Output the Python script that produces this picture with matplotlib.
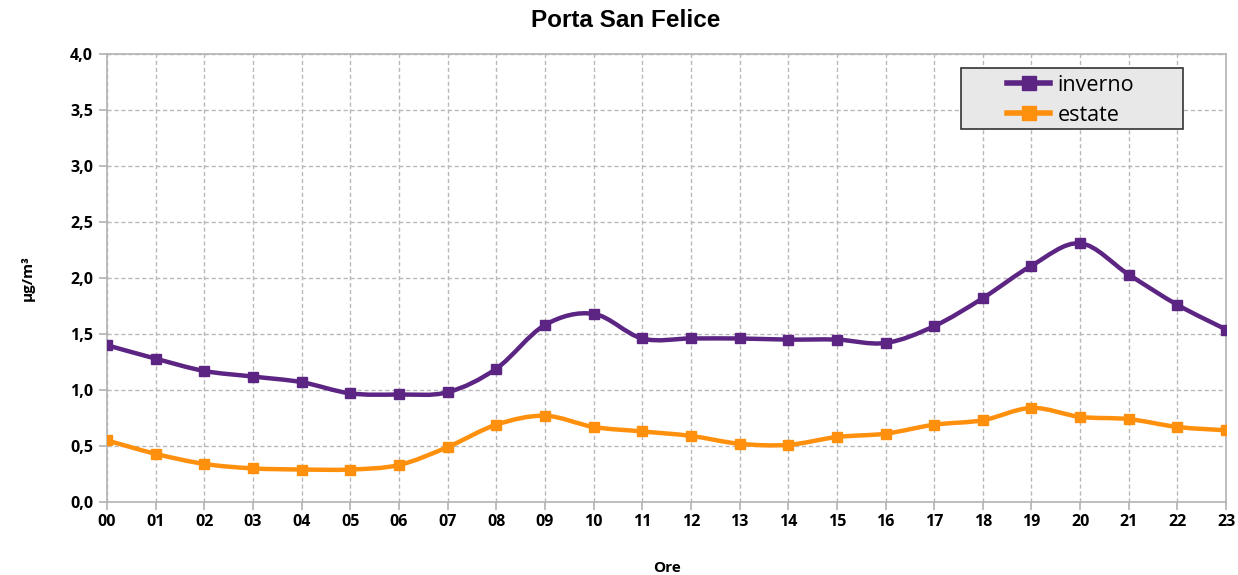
import matplotlib
matplotlib.use('Agg')
import matplotlib.pyplot as plt
from matplotlib.path import Path
from matplotlib.patches import PathPatch, Rectangle
from matplotlib.lines import Line2D
import numpy as np

# hourly means, Porta San Felice
ore = ['00', '01', '02', '03', '04', '05', '06', '07', '08', '09', '10', '11',
       '12', '13', '14', '15', '16', '17', '18', '19', '20', '21', '22', '23']
inverno = [1.40, 1.28, 1.17, 1.12, 1.07, 0.97, 0.96, 0.98, 1.19, 1.58, 1.68, 1.46,
           1.46, 1.46, 1.45, 1.45, 1.42, 1.57, 1.82, 2.11, 2.31, 2.03, 1.76, 1.54]
estate = [0.55, 0.43, 0.34, 0.30, 0.29, 0.29, 0.33, 0.49, 0.69, 0.77, 0.67, 0.63,
          0.59, 0.52, 0.51, 0.58, 0.61, 0.69, 0.73, 0.84, 0.76, 0.74, 0.67, 0.64]

c_inv = '#5c2483'
c_est = '#ff900e'


def smooth_path(x, y):
    # cubic bezier segments through every point (catmull-rom tangents)
    x = np.asarray(x, float)
    y = np.asarray(y, float)
    n = len(x)
    verts = [(x[0], y[0])]
    codes = [Path.MOVETO]
    for i in range(n - 1):
        i0 = max(i - 1, 0)
        i3 = min(i + 2, n - 1)
        p1 = (x[i] + (x[i + 1] - x[i0]) / 6, y[i] + (y[i + 1] - y[i0]) / 6)
        p2 = (x[i + 1] - (x[i3] - x[i]) / 6, y[i + 1] - (y[i3] - y[i]) / 6)
        verts += [p1, p2, (x[i + 1], y[i + 1])]
        codes += [Path.CURVE4] * 3
    return Path(verts, codes)


fig = plt.figure(figsize=(12.38, 5.75), dpi=100)
ax = fig.add_axes([0.0864, 0.127, 0.904, 0.779])

hx = np.arange(len(ore))
for vals, col in [(inverno, c_inv), (estate, c_est)]:
    ax.add_patch(PathPatch(smooth_path(hx, vals), facecolor='none',
                           edgecolor=col, lw=3.2, capstyle='round', zorder=3))
    ax.plot(hx, vals, ls='none', marker='s', ms=7, color=col, zorder=4)

ax.set_xlim(0, 23)
ax.set_ylim(0, 4)
ax.set_xticks(hx)
ax.set_xticklabels(ore)
ax.set_yticks(np.arange(0, 4.01, 0.5))
ax.set_yticklabels([f'{v:.1f}'.replace('.', ',') for v in np.arange(0, 4.01, 0.5)])
for lab in ax.get_xticklabels() + ax.get_yticklabels():
    lab.set_fontweight('bold')
    lab.set_fontsize(11.5)
    lab.set_family('Open Sans')
ax.tick_params(axis='both', length=6, color='#b3b3b3', width=1.2, pad=3)
ax.tick_params(axis='y', pad=4)

ax.grid(True, color='#b8b8b8', ls=(0, (3, 2)), lw=1)
ax.set_axisbelow(True)
for s in ax.spines.values():
    s.set_color('#b3b3b3')
    s.set_linewidth(1.2)

fig.text(0.505, 0.965, 'Porta San Felice', ha='center', va='center',
         fontsize=17.5, fontweight='bold', family='Liberation Sans')
ax.set_xlabel('Ore', fontsize=11, fontweight='bold', family='Open Sans', labelpad=22)
ax.set_ylabel('µg/m³', fontsize=11, fontweight='bold', family='Open Sans', labelpad=25)

# legend box drawn separately so the entries can sit centred inside it
fig.patches.append(Rectangle((0.7763, 0.7757), 0.1793, 0.106,
                             transform=fig.transFigure, facecolor='#e8e8e8',
                             edgecolor='#333333', lw=1.2, zorder=5))
handles = [Line2D([], [], color=c_inv, lw=4, marker='s', ms=10),
           Line2D([], [], color=c_est, lw=4, marker='s', ms=10)]
leg = fig.legend(handles, ['inverno', 'estate'], loc='center left',
                 bbox_to_anchor=(0.8134, 0.8255), frameon=False,
                 handlelength=2.0, borderpad=0, labelspacing=0.42,
                 handletextpad=0.35, borderaxespad=0,
                 prop={'family': 'Open Sans', 'size': 15.5})
leg.set_zorder(6)

fig.savefig('out.png', dpi=100)
